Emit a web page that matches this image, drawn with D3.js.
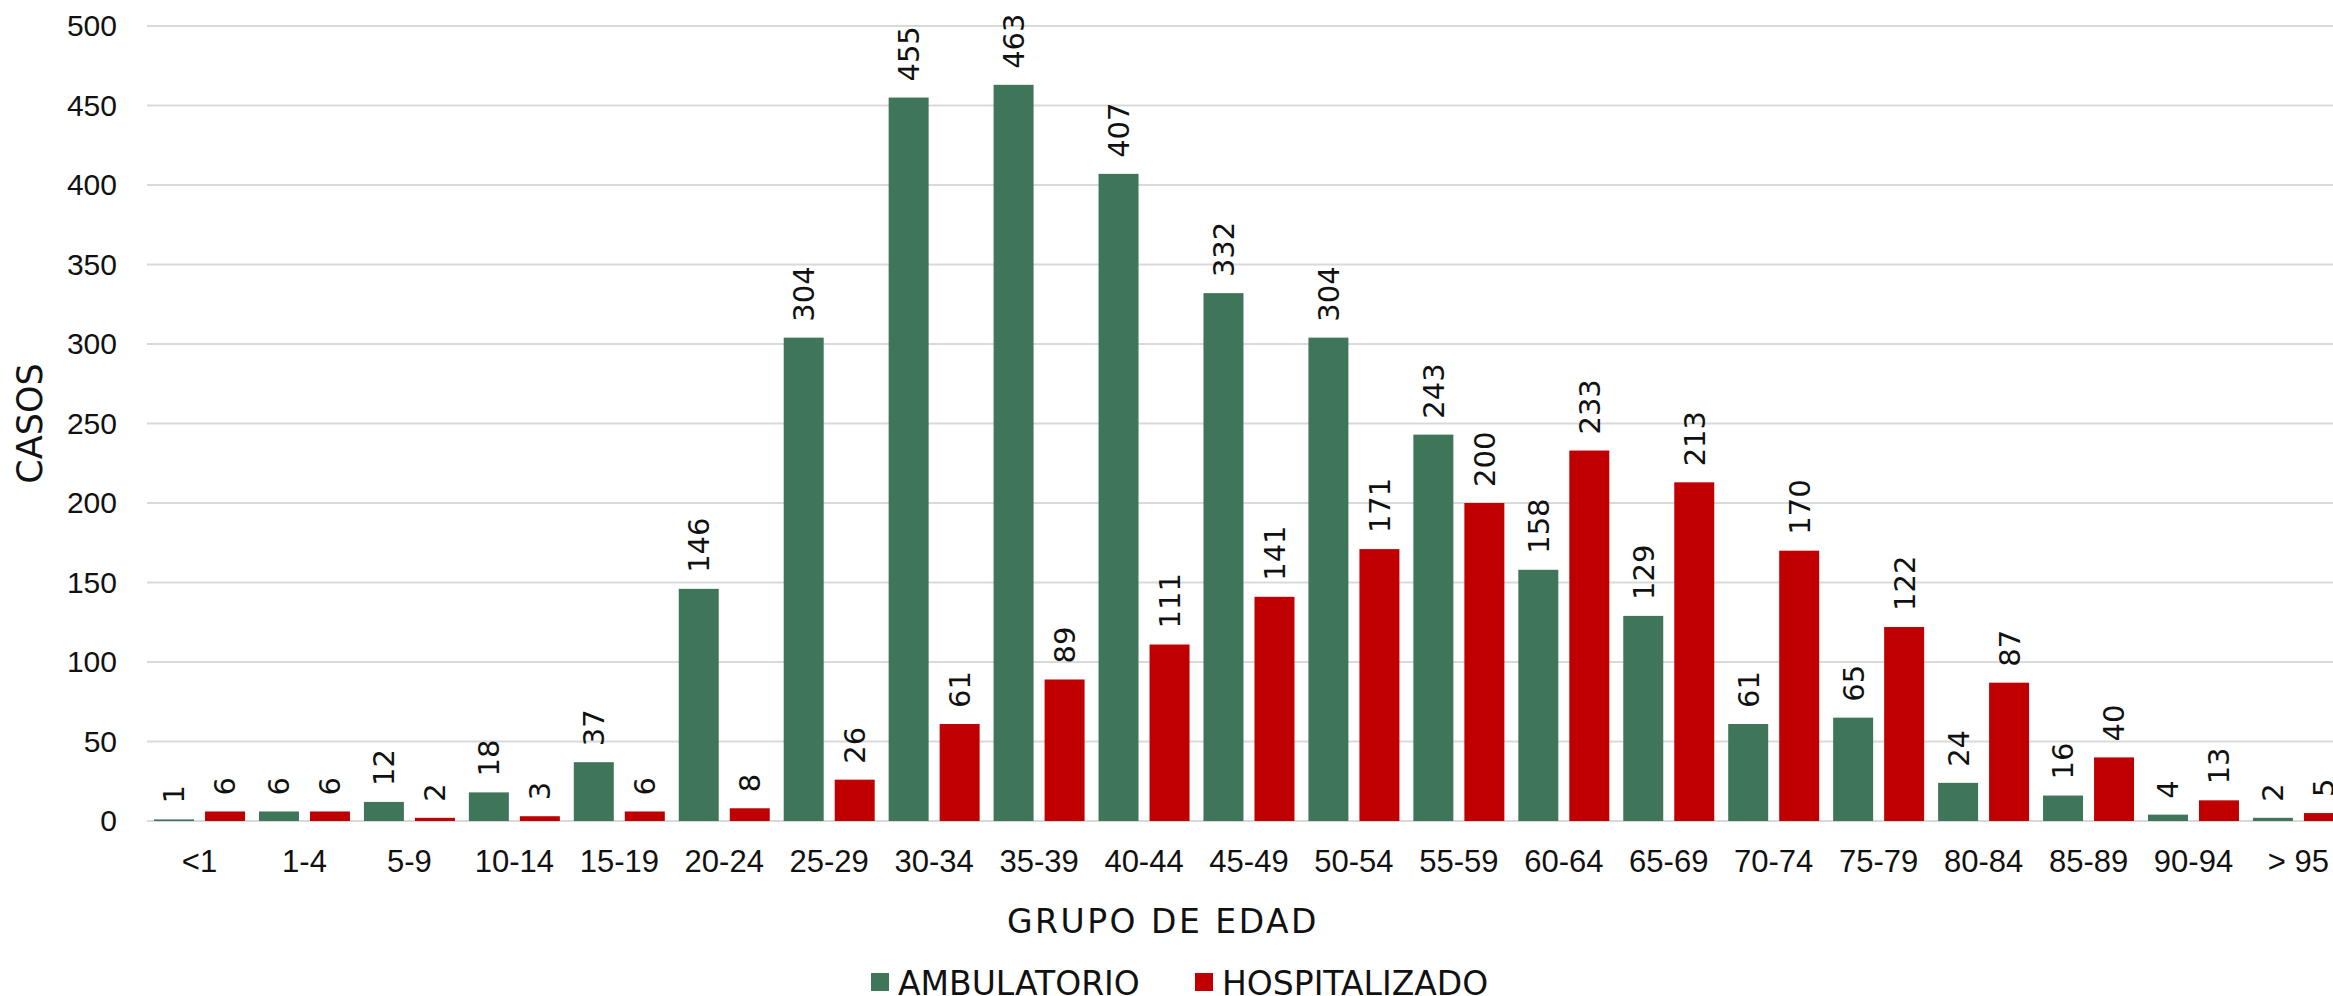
<!DOCTYPE html>
<html>
<head>
<meta charset="utf-8">
<script src="https://cdn.jsdelivr.net/npm/d3@7"></script>
<style>
  body { margin: 0; background: #fff; }
  svg { display: block; font-family: 'DejaVu Sans', sans-serif; }
</style>
</head>
<body>
<div id="chart"></div>
<script>
// age groups and counts
var grupos = ['<1', '1-4', '5-9', '10-14', '15-19', '20-24', '25-29', '30-34', '35-39', '40-44',
  '45-49', '50-54', '55-59', '60-64', '65-69', '70-74', '75-79', '80-84', '85-89', '90-94', '> 95']
var ambulatorio = [1, 6, 12, 18, 37, 146, 304, 455, 463, 407, 332, 304, 243, 158, 129, 61, 65, 24, 16, 4, 2]
var hospitalizado = [6, 6, 2, 3, 6, 8, 26, 61, 89, 111, 141, 171, 200, 233, 213, 170, 122, 87, 40, 13, 5]
var yTicks = [0, 50, 100, 150, 200, 250, 300, 350, 400, 450, 500]
var series = ['AMBULATORIO', 'HOSPITALIZADO']

var colors = { AMBULATORIO: '#3f765a', HOSPITALIZADO: '#c00000' }

var width = 2333
var height = 996
var margin = { top: 26, left: 147, bottom: 175 }

// the plot runs a little past the right edge, as in the original
var bandW = 104.95
var plotRight = margin.left + grupos.length * bandW

var svg = d3.select('#chart')
  .append('svg')
  .attr('width', width)
  .attr('height', height)

var x0 = d3.scaleBand()
  .domain(grupos)
  .range([margin.left, plotRight])
  .paddingInner(0.133)
  .paddingOuter(0.067)

var x1 = d3.scaleBand()
  .domain(series)
  .range([0, x0.bandwidth()])
  .paddingInner(0.216)

var y = d3.scaleLinear()
  .domain([0, 500])
  .range([height - margin.bottom, margin.top])

// gridlines
svg.append('g')
  .selectAll('line')
  .data(yTicks)
  .enter()
  .append('line')
  .attr('x1', margin.left)
  .attr('x2', plotRight)
  .attr('y1', d => y(d))
  .attr('y2', d => y(d))
  .attr('stroke', '#d9d9d9')
  .attr('stroke-width', 2)

// y axis labels
var yAxis = d3.axisLeft(y).tickValues(yTicks).tickSize(0).tickPadding(30)
svg.append('g')
  .attr('transform', 'translate(' + margin.left + ',0)')
  .call(yAxis)
  .call(g => g.select('.domain').remove())
  .selectAll('text')
  .attr('font-size', 30)
  .attr('fill', '#111')
  .attr('font-family', null)

// x axis labels
var xAxis = d3.axisBottom(x0).tickSize(0).tickPadding(29)
svg.append('g')
  .attr('transform', 'translate(0,' + y(0) + ')')
  .call(xAxis)
  .call(g => g.select('.domain').remove())
  .selectAll('text')
  .attr('font-size', 31)
  .attr('fill', '#111')
  .attr('font-family', null)

var rows = grupos.map(function(g, i) {
  return { grupo: g, values: [
    { key: 'AMBULATORIO', value: ambulatorio[i] },
    { key: 'HOSPITALIZADO', value: hospitalizado[i] }
  ] }
})

var groups = svg.append('g')
  .selectAll('g')
  .data(rows)
  .enter()
  .append('g')
  .attr('transform', d => 'translate(' + x0(d.grupo) + ',0)')

groups.selectAll('rect')
  .data(d => d.values)
  .enter()
  .append('rect')
  .attr('x', d => x1(d.key))
  .attr('width', x1.bandwidth())
  .attr('y', d => y(d.value))
  .attr('height', d => y(0) - y(d.value))
  .attr('fill', d => colors[d.key])

// value labels, rotated
groups.selectAll('text')
  .data(d => d.values)
  .enter()
  .append('text')
  .text(d => d.value)
  .attr('transform', d => 'translate(' + (x1(d.key) + x1.bandwidth() / 2) + ',' + (y(d.value) - 16) + ') rotate(-90)')
  .attr('dy', '0.36em')
  .attr('font-size', 29)
  .attr('fill', '#111')

// axis titles
svg.append('text')
  .text('CASOS')
  .attr('transform', 'translate(29,' + y(250) + ') rotate(-90)')
  .attr('text-anchor', 'middle')
  .attr('dy', '0.36em')
  .attr('font-size', 35)
  .attr('fill', '#111')

svg.append('text')
  .text('GRUPO DE EDAD')
  .attr('x', 1163)
  .attr('y', 933)
  .attr('text-anchor', 'middle')
  .attr('font-size', 33)
  .attr('letter-spacing', 2.5)
  .attr('fill', '#111')

// legend
var legendX = [871, 1195]
var legend = svg.append('g')
  .selectAll('g')
  .data(series)
  .enter()
  .append('g')
  .attr('transform', (d, i) => 'translate(' + legendX[i] + ',973)')

legend.append('rect')
  .attr('width', 18)
  .attr('height', 18)
  .attr('fill', d => colors[d])

legend.append('text')
  .text(d => d)
  .attr('x', 27)
  .attr('y', 22)
  .attr('font-size', 33)
  .attr('fill', '#111')
</script>
</body>
</html>
